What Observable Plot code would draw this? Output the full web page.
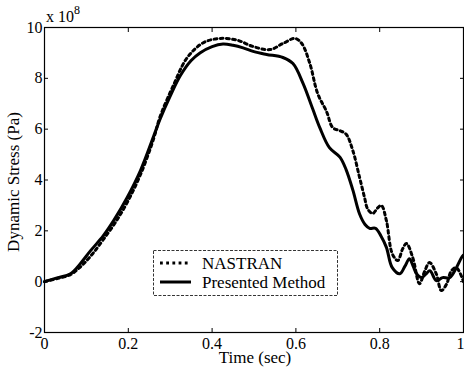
<!DOCTYPE html>
<html><head><meta charset="utf-8">
<script src="https://cdn.jsdelivr.net/npm/d3@7"></script>
<script src="https://cdn.jsdelivr.net/npm/@observablehq/plot@0.6"></script>
<style>
html,body{margin:0;padding:0;background:#fff;}
#wrap{position:relative;width:464px;height:372px;font-family:"Liberation Serif","DejaVu Serif",serif;color:#000;}
.ov{position:absolute;white-space:nowrap;}
</style></head><body>
<div id="wrap"></div>
<script>
const presT = [0,0.03,0.062,0.085,0.11,0.14,0.165,0.197,0.229,0.26,0.276,0.3,0.324,0.35,0.371,0.4,0.426,0.45,0.474,0.5,0.53,0.569,0.593,0.617,0.64,0.657,0.68,0.705,0.72,0.736,0.752,0.765,0.776,0.79,0.803,0.816,0.83,0.848,0.86,0.871,0.88,0.888,0.9,0.91,0.92,0.935,0.95,0.967,0.983,0.995,1.0];
const presY = [0,0.15,0.31,0.7,1.22,1.8,2.4,3.3,4.37,5.7,6.4,7.3,8.1,8.7,9.0,9.25,9.35,9.3,9.2,9.05,8.94,8.82,8.58,7.8,6.8,6.06,5.27,4.9,4.4,3.6,2.66,2.25,2.1,2.1,1.8,1.35,0.55,0.31,0.6,0.9,0.6,0.31,0.16,0.3,0.43,0.04,0.16,0.16,0.55,0.94,1.05];
const nasT = [0,0.03,0.062,0.09,0.115,0.14,0.17,0.2,0.23,0.26,0.276,0.307,0.34,0.379,0.419,0.46,0.498,0.538,0.569,0.598,0.614,0.633,0.652,0.673,0.688,0.705,0.72,0.736,0.752,0.764,0.771,0.783,0.795,0.804,0.816,0.83,0.843,0.855,0.864,0.879,0.895,0.907,0.919,0.935,0.947,0.96,0.971,0.983,1.0];
const nasY = [0,0.12,0.28,0.65,1.1,1.65,2.35,3.2,4.25,5.6,6.5,7.7,8.8,9.4,9.57,9.5,9.25,9.13,9.37,9.57,9.37,8.6,7.4,6.7,6.06,5.94,5.8,5.15,4.1,3.3,2.87,2.68,2.9,3.0,2.4,1.1,0.83,1.3,1.5,0.94,-0.08,0.4,0.75,0.31,-0.35,-0.08,0.43,0.55,0.0];
const xTicks = [0,0.2,0.4,0.6,0.8,1];
const xTickLabels = ["0","0.2","0.4","0.6","0.8","1"];
const yTicks = [-2,0,2,4,6,8,10];
const yTickLabels = ["-2","0","2","4","6","8","10"];
const seriesNames = ["NASTRAN","Presented Method"];

const pres = presT.map((t,i)=>({t, v: presY[i]}));
const nas = nasT.map((t,i)=>({t, v: nasY[i]}));
const xLab = d => xTickLabels[xTicks.indexOf(d)];

const font = "Liberation Serif";
const chart = Plot.plot({
  width: 464, height: 372,
  marginLeft: 44, marginRight: 1, marginTop: 27, marginBottom: 40,
  style: {fontFamily: font, fontSize: "16px", background: "#fff", color: "#000", overflow: "visible"},
  x: {domain: [0,1]},
  y: {domain: [-2,10]},
  marks: [
    Plot.frame({stroke: "#000", strokeWidth: 1.2}),
    Plot.axisX({ticks: xTicks.slice(0, -1), tickFormat: xLab, tickSize: 0, tickPadding: 5, label: null, fontSize: 16}),
    Plot.axisX({ticks: xTicks.slice(-1), tickFormat: xLab, tickSize: 0, tickPadding: 5, label: null, fontSize: 16, textAnchor: "end", dx: 1}),
    Plot.axisX({ticks: xTicks, tickSize: -4, text: null, label: null}),
    Plot.axisX({anchor: "top", ticks: xTicks, tickSize: -4, text: null, label: null}),
    Plot.axisY({ticks: yTicks, tickFormat: d=>yTickLabels[yTicks.indexOf(d)], tickSize: 0, tickPadding: 2, label: null, fontSize: 16}),
    Plot.axisY({ticks: yTicks, tickSize: -4, text: null, label: null}),
    Plot.axisY({anchor: "right", ticks: yTicks, tickSize: -4, text: null, label: null}),
    Plot.line(nas, {x: "t", y: "v", stroke: "#000", strokeWidth: 3, strokeDasharray: "2.8,3.4", curve: "catmull-rom"}),
    Plot.line(pres, {x: "t", y: "v", stroke: "#000", strokeWidth: 3, curve: "catmull-rom"})
  ]
});
const wrap = document.getElementById("wrap");
wrap.appendChild(chart);

function ov(html, css){ const d=document.createElement("div"); d.className="ov"; d.innerHTML=html; d.style.cssText+=css; wrap.appendChild(d); return d; }
ov('x 10<sup style="font-size:12px;position:relative;top:-2px;">8</sup>', "left:46px;top:4px;font-size:16px;line-height:17px;");
ov('Time (sec)', "left:255px;top:358px;font-size:17px;transform:translate(-50%,-50%);");
ov('Dynamic Stress (Pa)', "left:14px;top:182px;font-size:17px;transform:translate(-50%,-50%) rotate(-90deg);");
ov(`
<svg width="185" height="46" style="position:absolute;left:0;top:0;">
<rect x="0.5" y="0.5" width="184" height="45" fill="#fff" stroke="#000" stroke-width="0.8" stroke-dasharray="3,1.5"/>
<line x1="7" x2="38" y1="13" y2="13" stroke="#000" stroke-width="3" stroke-dasharray="2.8,3.4"/>
<line x1="7" x2="38" y1="32" y2="32" stroke="#000" stroke-width="3"/>
<text x="49" y="19" font-size="17" font-family="${font}">${seriesNames[0]}</text>
<text x="49" y="38" font-size="17" font-family="${font}">${seriesNames[1]}</text>
</svg>`, "left:153px;top:250px;width:185px;height:46px;");
</script>
</body></html>
